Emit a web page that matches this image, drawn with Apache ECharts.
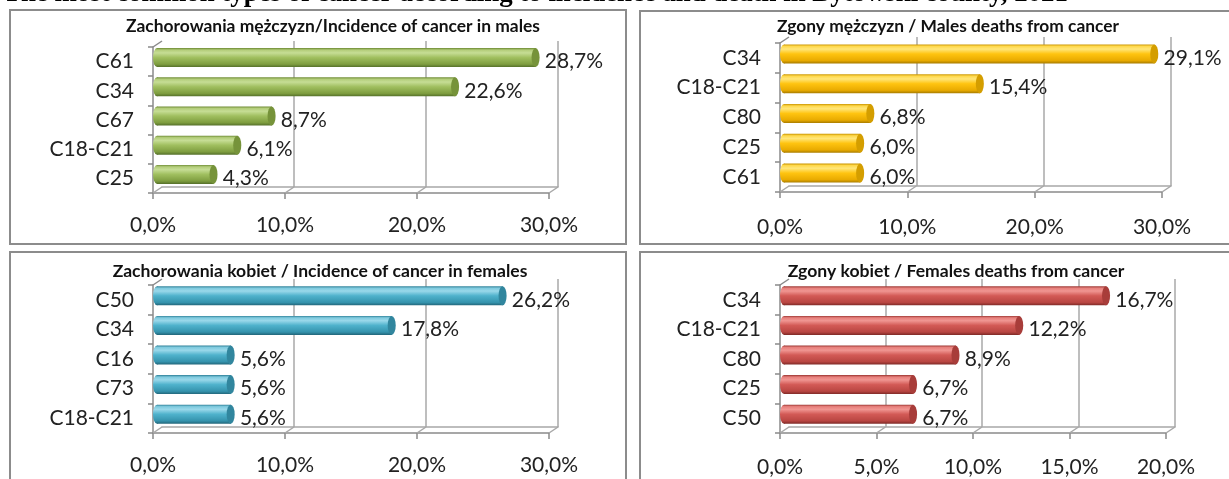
<!DOCTYPE html>
<html><head><meta charset="utf-8">
<script src="https://cdn.jsdelivr.net/npm/echarts@6/dist/echarts.min.js"></script>
<style>html,body{margin:0;padding:0;background:#fff}#c{width:1229px;height:479px}</style>
</head><body><div id="c"></div><script>
// ---------- data ----------
const mainTitle = 'The most common types of cancer according to incidence and death in Bytowski county, 2021';
const titleMaleInc = 'Zachorowania mężczyzn/Incidence of cancer in males';
const titleMaleDeath = 'Zgony mężczyzn / Males deaths from cancer';
const titleFemInc = 'Zachorowania kobiet / Incidence of cancer in females';
const titleFemDeath = 'Zgony kobiet / Females deaths from cancer';

const catsMaleInc = ['C61', 'C34', 'C67', 'C18-C21', 'C25'];
const valsMaleInc = [28.7, 22.6, 8.7, 6.1, 4.3];
const catsMaleDeath = ['C34', 'C18-C21', 'C80', 'C25', 'C61'];
const valsMaleDeath = [29.1, 15.4, 6.8, 6.0, 6.0];
const catsFemInc = ['C50', 'C34', 'C16', 'C73', 'C18-C21'];
const valsFemInc = [26.2, 17.8, 5.6, 5.6, 5.6];
const catsFemDeath = ['C34', 'C18-C21', 'C80', 'C25', 'C50'];
const valsFemDeath = [16.7, 12.2, 8.9, 6.7, 6.7];

const ticksA = [0, 10, 20, 30];
const ticksB = [0, 5, 10, 15, 20];

// ---------- styling / layout ----------
const FONT = 'Lato';
const TXT = '#222222';
const AXIS = '#8a8a8a';
const GRIDC = '#a8a8a8';
const palettes = {
  green: {stops: ['#6f8c35', '#b3cd7a', '#c6dd95', '#a0bf5f', '#7e9d3f', '#55702a'], cap: '#76933a', capB: '#4f6624'},
  gold:  {stops: ['#c99400', '#ffd84a', '#ffe67a', '#ffc410', '#e8aa00', '#a87c00'], cap: '#d49e00', capB: '#8f6a00'},
  blue:  {stops: ['#2f8199', '#7fcade', '#9ad8ea', '#4fb2cc', '#3593ad', '#22667a'], cap: '#31869e', capB: '#1d5666'},
  red:   {stops: ['#9c3733', '#e7807c', '#f09692', '#d35a56', '#b94642', '#7f2a27'], cap: '#a83d3a', capB: '#6e2220'}
};
const panels = [
  {title: titleMaleInc, cats: catsMaleInc, vals: valsMaleInc, ticks: ticksA, pal: palettes.green,
   g: {left: 153, top: 47, width: 396, height: 146}, lm: 22, t: {cx: 333, cy: 26, w: 414}},
  {title: titleMaleDeath, cats: catsMaleDeath, vals: valsMaleDeath, ticks: ticksA, pal: palettes.gold,
   g: {left: 780, top: 43, width: 382, height: 149}, lm: 25, t: {cx: 948, cy: 26, w: 342}},
  {title: titleFemInc, cats: catsFemInc, vals: valsFemInc, ticks: ticksA, pal: palettes.blue,
   g: {left: 153, top: 285, width: 396, height: 148}, lm: 22, t: {cx: 320, cy: 271, w: 415}},
  {title: titleFemDeath, cats: catsFemDeath, vals: valsFemDeath, ticks: ticksB, pal: palettes.red,
   g: {left: 780, top: 285, width: 386, height: 148}, lm: 24, t: {cx: 956, cy: 271, w: 337}}
];
const BACK = {dx: 9, dy: -6};
const MID = {dx: 4, dy: -4};
const BARW = 19;

const pct = v => v.toFixed(1).replace('.', ',') + '%';
const grad = pal => new echarts.graphic.LinearGradient(0, 0, 0, 1, [
  {offset: 0, color: pal.stops[0]}, {offset: 0.1, color: pal.stops[1]},
  {offset: 0.25, color: pal.stops[2]}, {offset: 0.5, color: pal.stops[3]},
  {offset: 0.85, color: pal.stops[4]}, {offset: 1, color: pal.stops[5]}]);

const measure = (text, font) => {
  const ctx = document.createElement('canvas').getContext('2d');
  ctx.font = font;
  return ctx.measureText(text).width;
};
const fitSize = (text, weight, family, target) => 100 * target / measure(text, weight + ' 100px ' + family);

const grids = [], xAxes = [], yAxes = [], series = [];
panels.forEach((p, i) => {
  const max = p.ticks[p.ticks.length - 1];
  const step = p.ticks[1] - p.ticks[0];
  const g = p.g;
  grids.push({left: g.left, top: g.top, width: g.width, height: g.height});
  grids.push({left: g.left + BACK.dx, top: g.top + BACK.dy, width: g.width, height: g.height});
  grids.push({left: g.left + MID.dx, top: g.top + MID.dy, width: g.width, height: g.height});
  const gi = i * 3;
  xAxes.push({gridIndex: gi, type: 'value', min: 0, max: max, interval: step,
    axisLine: {show: true, lineStyle: {color: AXIS, width: 1.5}},
    axisTick: {show: true, length: 6, lineStyle: {color: AXIS, width: 1.5}},
    axisLabel: {margin: p.lm, fontSize: 21, fontFamily: FONT, color: TXT, formatter: pct},
    splitLine: {show: false}});
  yAxes.push({gridIndex: gi, type: 'category', data: p.cats, inverse: true,
    axisLine: {show: true, lineStyle: {color: AXIS, width: 1.5}},
    axisTick: {show: true, length: 5, lineStyle: {color: AXIS, width: 1.5}},
    axisLabel: {margin: 19, fontSize: 21, fontFamily: FONT, color: TXT}});
  xAxes.push({gridIndex: gi + 1, type: 'value', min: 0, max: max, interval: step,
    axisLine: {show: true, lineStyle: {color: GRIDC, width: 1.5}},
    axisTick: {show: false}, axisLabel: {show: false},
    splitLine: {show: true, showMinLine: false, lineStyle: {color: GRIDC, width: 1.5}}});
  yAxes.push({gridIndex: gi + 1, type: 'category', data: p.cats, inverse: true,
    axisLine: {show: false}, axisTick: {show: false}, axisLabel: {show: false}});
  xAxes.push({gridIndex: gi + 2, type: 'value', min: 0, max: max, show: false});
  yAxes.push({gridIndex: gi + 2, type: 'category', data: p.cats, inverse: true, show: false});

  series.push({type: 'pictorialBar', xAxisIndex: gi + 2, yAxisIndex: gi + 2, data: p.vals,
    symbol: 'circle', symbolSize: [8, BARW], symbolPosition: 'start', symbolOffset: ['-50%', 0],
    itemStyle: {color: grad(p.pal)}, z: 3, silent: true});
  series.push({type: 'bar', xAxisIndex: gi + 2, yAxisIndex: gi + 2, data: p.vals, barWidth: BARW,
    itemStyle: {color: grad(p.pal)}, z: 4,
    label: {show: true, position: 'right', distance: 9, offset: [0, 4], formatter: o => pct(o.value),
      fontSize: 21, fontFamily: FONT, color: TXT}});
  series.push({type: 'pictorialBar', xAxisIndex: gi + 2, yAxisIndex: gi + 2, data: p.vals,
    symbol: 'circle', symbolSize: [8, BARW], symbolPosition: 'end', symbolOffset: ['50%', 0],
    itemStyle: {color: p.pal.cap, borderColor: p.pal.capB, borderWidth: 0.8}, z: 5, silent: true});
});

const chart = echarts.init(document.getElementById('c'), null, {renderer: 'canvas'});
chart.setOption({animation: false, backgroundColor: '#fff', grid: grids, xAxis: xAxes, yAxis: yAxes, series: series});

// decorations: frames, titles, 3D connectors
const gfx = [];
const frames = [
  {x: 10, y: 10, width: 616, height: 234}, {x: 640, y: 11, width: 600, height: 233},
  {x: 10, y: 252, width: 616, height: 240}, {x: 640, y: 252, width: 600, height: 240}];
frames.forEach(s => gfx.push({type: 'rect', shape: s, style: {fill: 'none', stroke: '#8c8c8c', lineWidth: 2}, z: 1}));

const mtSize = fitSize(mainTitle, 'bold', 'Liberation Serif', 1065);
gfx.push({type: 'text', x: 3, y: -6, z: 10, style: {text: mainTitle, fill: '#000',
  font: 'bold ' + mtSize.toFixed(2) + 'px "Liberation Serif"', textAlign: 'left', textVerticalAlign: 'middle', align: 'left', verticalAlign: 'middle'}});

panels.forEach((p, i) => {
  const s = fitSize(p.title, 'bold', FONT, p.t.w);
  gfx.push({type: 'text', x: p.t.cx, y: p.t.cy, z: 10, style: {text: p.title, fill: '#111',
    font: 'bold ' + s.toFixed(2) + 'px ' + FONT, textAlign: 'center', textVerticalAlign: 'middle', align: 'center', verticalAlign: 'middle'}});
  const g = p.g, gi = i * 3;
  const fb = g.top + g.height, bb = fb + BACK.dy;
  p.ticks.forEach(v => {
    const xf = chart.convertToPixel({xAxisIndex: gi}, v);
    const xb = chart.convertToPixel({xAxisIndex: gi + 1}, v);
    gfx.push({type: 'line', shape: {x1: xf, y1: fb, x2: xb, y2: bb}, style: {stroke: GRIDC, lineWidth: 1.5}, z: 1});
  });
  gfx.push({type: 'line', shape: {x1: g.left, y1: g.top, x2: g.left + BACK.dx, y2: g.top + BACK.dy},
    style: {stroke: AXIS, lineWidth: 1.5}, z: 1});
});
chart.setOption({graphic: {elements: gfx}});
</script></body></html>
